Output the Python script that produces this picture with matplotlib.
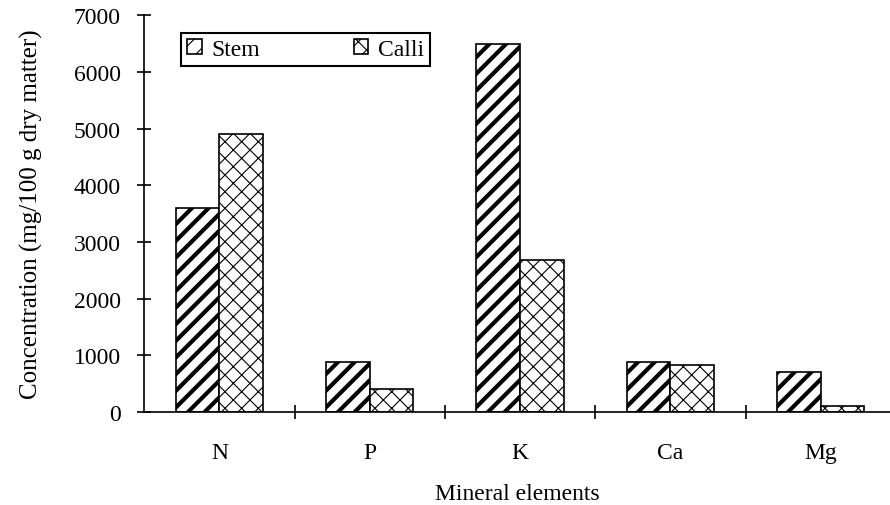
import matplotlib
matplotlib.use('Agg')
import matplotlib.pyplot as plt
import numpy as np

elements = ['N', 'P', 'K', 'Ca', 'Mg']
stem = [3600, 880, 6500, 880, 700]
calli = [4900, 400, 2680, 820, 100]

plt.rcParams['font.family'] = ['Liberation Serif', 'DejaVu Serif']
plt.rcParams['hatch.color'] = 'black'

fig = plt.figure(figsize=(8.9, 5.06), dpi=100)
ax = fig.add_axes([0.162, 0.184, 0.838, 0.784])

x = np.arange(len(elements))
w = 0.29
plt.rcParams['hatch.linewidth'] = 3.0
ax.bar(x - w / 2, stem, w, facecolor='white', edgecolor='black',
       hatch='//', linewidth=1.2, label='Stem')
plt.rcParams['hatch.linewidth'] = 0.8
ax.bar(x + w / 2, calli, w, facecolor='white', edgecolor='black',
       hatch='xx', linewidth=1.2, label='Calli')

fs = 17
ax.set_xlim(-0.5, 4.46)
ax.set_ylim(0, 7000)
ax.set_yticks(range(0, 7001, 1000))
ax.set_xticks([0.5, 1.5, 2.5, 3.5])
ax.set_xticklabels([])
ax.set_xticks(x, minor=True)
ax.set_xticklabels(elements, minor=True)
ax.tick_params(axis='x', which='minor', length=0, pad=22, labelsize=fs)
ax.tick_params(axis='x', which='major', direction='inout', length=10, width=1.2)
ax.tick_params(axis='y', direction='inout', length=10, width=1.2, pad=12, labelsize=fs)

for s in ['top', 'right']:
    ax.spines[s].set_visible(False)
for s in ['left', 'bottom']:
    ax.spines[s].set_linewidth(1.2)

ax.set_xlabel('Mineral elements', fontsize=fs, labelpad=14)
ax.set_ylabel('Concentration (mg/100 g dry matter)', fontsize=18, labelpad=22)

leg = ax.legend(ncol=2, loc='upper left', bbox_to_anchor=(0.05, 0.955),
                fontsize=fs, fancybox=False, edgecolor='black', framealpha=1,
                handlelength=0.6, handleheight=0.6, handletextpad=0.4,
                columnspacing=4.0, borderpad=0.25, borderaxespad=0)
leg.get_frame().set_linewidth(1.5)

fig.savefig('out.png', dpi=100)
